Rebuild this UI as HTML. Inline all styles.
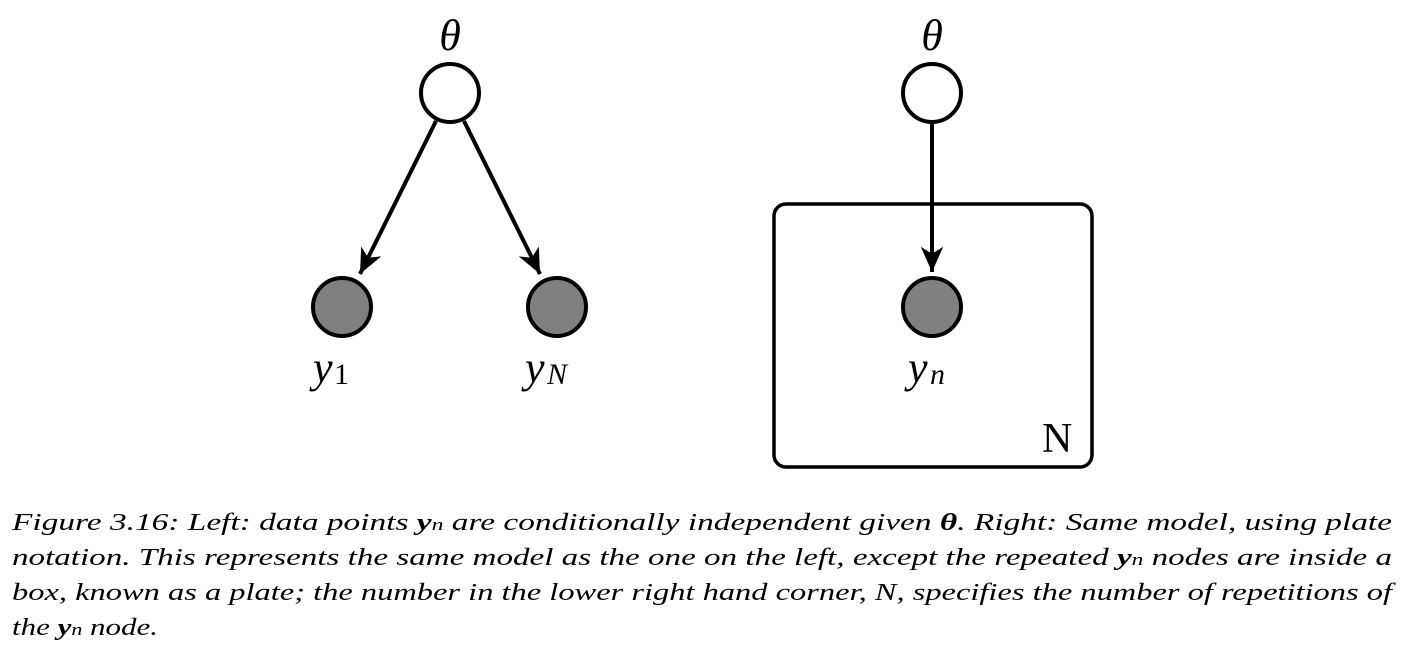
<!DOCTYPE html>
<html><head><meta charset="utf-8"><style>
html,body{margin:0;padding:0;background:#fff;}
svg{display:block;}
text{font-family:"Liberation Serif",serif;}
</style></head><body>
<svg width="1405" height="654" viewBox="0 0 1405 654" xmlns="http://www.w3.org/2000/svg">
<defs>
<marker id="ah" viewBox="0 0 20 20" refX="18" refY="10" markerWidth="7" markerHeight="7" orient="auto" markerUnits="strokeWidth">
<path d="M0,2 L18,10 L0,18 L5,10 Z" fill="#000"/>
</marker>
</defs>
<g stroke="#000" stroke-width="4">
<line x1="436" y1="121" x2="360" y2="274" marker-end="url(#ah)"/>
<line x1="464" y1="121" x2="540" y2="274" marker-end="url(#ah)"/>
<line x1="932" y1="122" x2="932" y2="272" marker-end="url(#ah)"/>
<circle cx="450" cy="93" r="29" fill="#fff"/>
<circle cx="342" cy="307" r="29" fill="#808080"/>
<circle cx="557" cy="307" r="29" fill="#808080"/>
<circle cx="932" cy="93" r="29" fill="#fff"/>
<circle cx="932" cy="307" r="29" fill="#808080"/>
<rect x="774" y="204" width="318" height="263" rx="12" fill="none" stroke-width="3.5"/>
</g>
<g font-style="italic" font-size="44">
<text x="450" y="50" text-anchor="middle">θ</text>
<text x="932" y="50" text-anchor="middle">θ</text>
<text x="313" y="382">y</text><text x="334" y="384" font-style="normal" font-size="30">1</text>
<text x="525" y="382">y</text><text x="547" y="384" font-size="30">N</text>
<text x="908" y="382">y</text><text x="930" y="384" font-size="30">n</text>
</g>
<text x="1042" y="452" font-size="42">N</text>
<g font-style="italic" font-size="24">
<text x="12" y="530" textLength="1380" lengthAdjust="spacingAndGlyphs">Figure 3.16: Left: data points <tspan font-weight="bold">y</tspan><tspan font-size="17" font-weight="normal">n</tspan> are conditionally independent given <tspan font-weight="bold">θ</tspan>. Right: Same model, using plate</text>
<text x="12" y="565" textLength="1380" lengthAdjust="spacingAndGlyphs">notation. This represents the same model as the one on the left, except the repeated <tspan font-weight="bold">y</tspan><tspan font-size="17">n</tspan> nodes are inside a</text>
<text x="12" y="600" textLength="1380" lengthAdjust="spacingAndGlyphs">box, known as a plate; the number in the lower right hand corner, N, specifies the number of repetitions of</text>
<text x="12" y="635" textLength="146" lengthAdjust="spacingAndGlyphs">the <tspan font-weight="bold">y</tspan><tspan font-size="17">n</tspan> node.</text>
</g>
</svg>
</body></html>
